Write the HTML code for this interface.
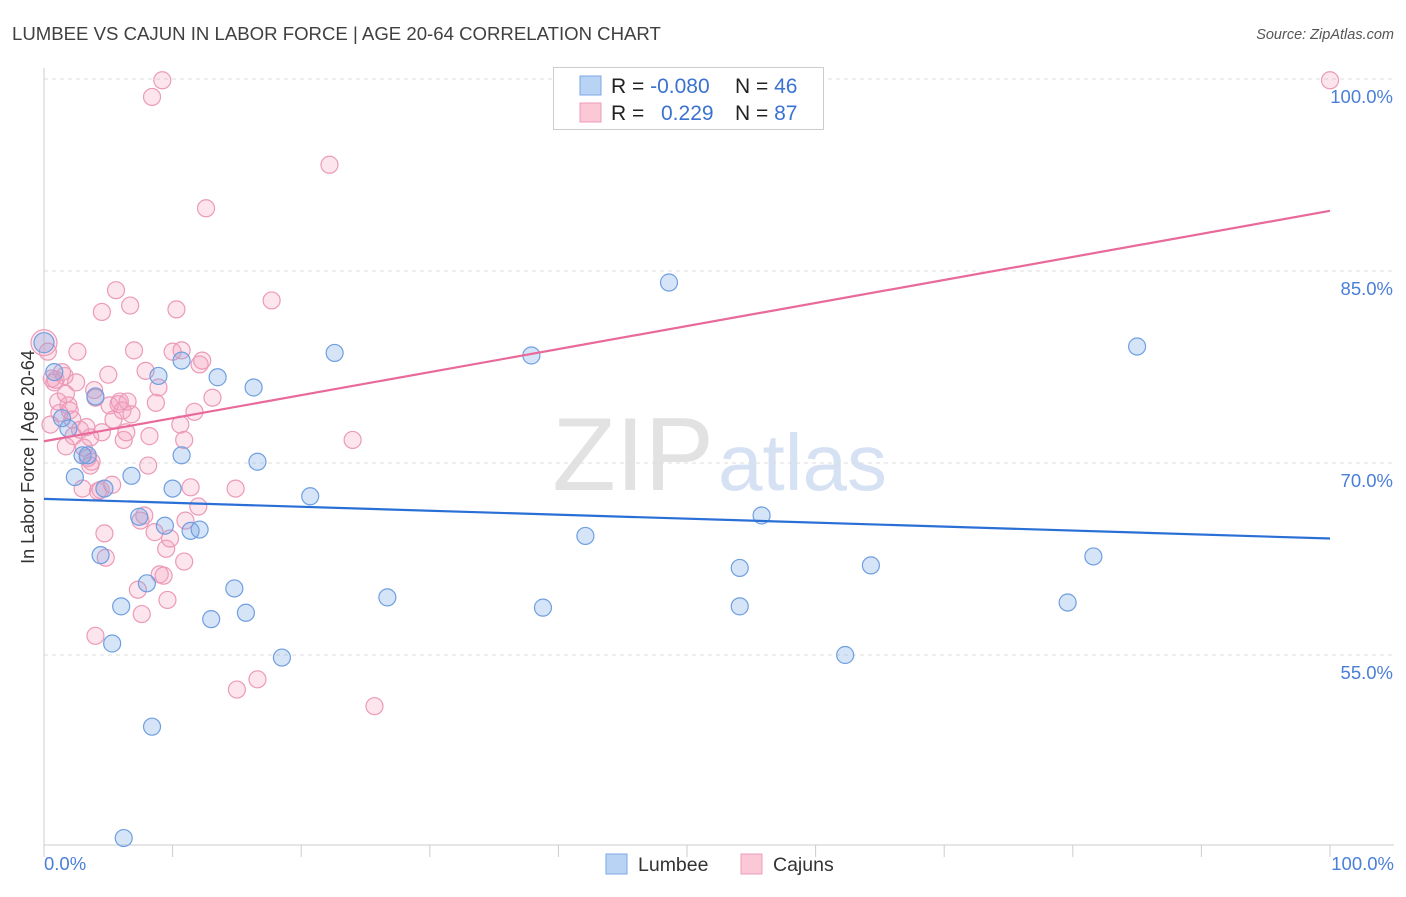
<!DOCTYPE html>
<html><head><meta charset="utf-8"><style>
body{margin:0;background:#fff;font-family:"Liberation Sans",sans-serif;}
svg text{font-family:"Liberation Sans",sans-serif;}
</style></head><body>
<svg id="chart" width="1406" height="892">
<text x="12" y="40" font-size="18.6" fill="#404040">LUMBEE VS CAJUN IN LABOR FORCE | AGE 20-64 CORRELATION CHART</text>
<text x="1394" y="39" font-size="14.5" fill="#555" font-style="italic" text-anchor="end">Source: ZipAtlas.com</text>
<text x="714" y="490" font-size="104" fill="#e2e2e2" text-anchor="end" font-family="Liberation Serif">ZIP</text>
<text x="718" y="490" font-size="80" fill="#d6e2f4">atlas</text>
<g id="grid"></g>
<line x1="44" y1="68" x2="44" y2="845" stroke="#ccc"/>
<line x1="44" y1="845" x2="1394" y2="845" stroke="#ccc"/>
<g id="xticks"></g>
<text x="44" y="870" font-size="18.5" fill="#4a7fd8">0.0%</text>
<text x="1394" y="870" font-size="18.5" fill="#4a7fd8" text-anchor="end">100.0%</text>
<text x="34" y="457" font-size="18" fill="#333" text-anchor="middle" transform="rotate(-90 34 457)">In Labor Force | Age 20-64</text>
<g id="points"></g>
<g id="trends"></g>
<g>
<rect x="553.5" y="67.5" width="270" height="62" fill="#fff" stroke="#ccc"/>
<rect x="580" y="76" width="21" height="19" fill="#b9d3f5" stroke="#7aa7e6"/>
<rect x="580" y="103" width="21" height="19" fill="#fbc8d8" stroke="#ef9ab8"/>
<text x="611" y="93" font-size="21" fill="#222">R = <tspan fill="#3b72d0">-0.080</tspan></text>
<text x="735" y="93" font-size="21" fill="#222">N = <tspan fill="#3b72d0">46</tspan></text>
<text x="611" y="120" font-size="21" fill="#222">R = <tspan fill="#3b72d0" x="661">0.229</tspan></text>
<text x="735" y="120" font-size="21" fill="#222">N = <tspan fill="#3b72d0">87</tspan></text>
</g>
<g>
<rect x="606" y="854" width="21" height="20" fill="#b9d3f5" stroke="#7aa7e6"/>
<text x="638" y="871" font-size="19.5" fill="#333">Lumbee</text>
<rect x="741" y="854" width="21" height="20" fill="#fbc8d8" stroke="#ef9ab8"/>
<text x="773" y="871" font-size="19.5" fill="#333">Cajuns</text>
</g>
</svg>
<script>
const yTicks=[100,85,70,55];
const yTickLabels=["100.0%","85.0%","70.0%","55.0%"];
const lumbeeX=[0,0.8,1.4,1.9,2.4,3.0,3.4,4.0,4.7,4.4,5.3,6.0,6.2,6.8,7.4,8.0,8.4,8.9,9.4,10.0,10.7,10.7,11.4,12.1,13.0,13.5,14.8,15.7,16.3,16.6,18.5,20.7,22.6,26.7,37.9,38.8,42.1,48.6,54.1,54.1,55.8,62.3,64.3,79.6,81.6,85.0];
const lumbeeY=[79.4,77.1,73.5,72.7,68.9,70.6,70.6,75.2,68.0,62.8,55.9,58.8,40.7,69.0,65.8,60.6,49.4,76.8,65.1,68.0,78.0,70.6,64.7,64.8,57.8,76.7,60.2,58.3,75.9,70.1,54.8,67.4,78.6,59.5,78.4,58.7,64.3,84.1,58.8,61.8,65.9,55.0,62.0,59.1,62.7,79.1];
const cajunX=[0,.3,.6,.8,1.1,1.2,1.6,1.7,1.9,2.0,2.2,2.3,2.5,2.6,2.8,3.0,3.1,3.3,3.4,3.6,3.7,3.9,4.0,4.2,4.4,4.5,4.7,4.8,4.0,5.1,5.4,5.6,4.5,5.8,5.9,6.1,6.2,6.5,6.7,6.8,7.0,7.3,7.5,7.6,7.8,8.1,8.2,8.4,8.6,8.7,8.9,9.0,9.2,9.3,9.5,9.8,10.0,10.3,10.6,10.7,10.9,11.0,11.4,11.7,12.0,12.1,12.3,12.6,13.1,14.9,15.0,16.6,17.7,22.2,24.0,25.7,100,.5,.9,1.4,1.7,5.0,6.4,7.9,9.6,10.9,5.3,3.6];
const cajunY=[79.4,78.7,76.6,76.3,74.8,73.9,76.8,71.3,74.5,74.1,73.4,72.1,76.3,78.7,72.6,68.0,71.2,72.8,70.4,72.0,70.1,75.7,75.1,67.8,67.9,72.4,64.5,62.6,56.5,74.5,73.4,83.5,81.8,74.6,74.8,74.1,71.8,74.8,82.3,73.8,78.8,60.1,65.5,58.2,65.9,69.8,72.1,98.6,64.6,74.7,75.9,61.3,99.9,61.2,63.3,64.1,78.7,82.0,73.0,78.8,62.3,65.5,68.1,74.0,66.6,77.7,78.0,89.9,75.1,68.0,52.3,53.1,82.7,93.3,71.8,51.0,99.9,73.0,76.5,77.1,75.4,76.9,72.4,77.2,59.3,71.8,68.3,69.8];
const lumbeeTrend=[67.2,64.1];
const cajunTrend=[71.7,89.7];
const NS="http://www.w3.org/2000/svg";
const xs=v=>44+v*12.86;
const ys=v=>79+(100-v)*12.8;
function mk(tag,attrs,parent){const e=document.createElementNS(NS,tag);for(const k in attrs)e.setAttribute(k,attrs[k]);parent.appendChild(e);return e;}
const grid=document.getElementById('grid');
yTicks.forEach((t,i)=>{
  const l=mk('line',{x1:44,x2:1394,y1:ys(t),y2:ys(t),stroke:'#ddd','stroke-dasharray':'4,4'},grid);
  
  
  const tx=mk('text',{x:1393,y:ys(t)+24,'font-size':18.5,fill:'#4a7fd8','text-anchor':'end'},grid);
  tx.textContent=yTickLabels[i];
  
  
});
const xt=document.getElementById('xticks');
for(let i=0;i<=10;i++){
  const l=mk('line',{x1:xs(i*10),x2:xs(i*10),y1:845,y2:857,stroke:'#ccc'},xt);
  
  
}
const pts=document.getElementById('points');
cajunX.forEach((x,i)=>{
  const c=mk('circle',{cx:xs(x),cy:ys(cajunY[i]),r:i==0?13:8.5,fill:'rgba(244,160,190,0.28)',stroke:'#ec9ab8','stroke-width':1.2},pts);
  
  
});
lumbeeX.forEach((x,i)=>{
  const c=mk('circle',{cx:xs(x),cy:ys(lumbeeY[i]),r:i==0?10:8.5,fill:'rgba(120,165,230,0.3)',stroke:'#6f9fe0','stroke-width':1.2},pts);
  
  
});
const tr=document.getElementById('trends');
const l1=mk('line',{x1:xs(0),x2:xs(100),y1:ys(lumbeeTrend[0]),y2:ys(lumbeeTrend[1]),stroke:'#2a6fd6','stroke-width':2.2},tr);


const l2=mk('line',{x1:xs(0),x2:xs(100),y1:ys(cajunTrend[0]),y2:ys(cajunTrend[1]),stroke:'#e8699a','stroke-width':2.2},tr);


</script>
</body></html>
